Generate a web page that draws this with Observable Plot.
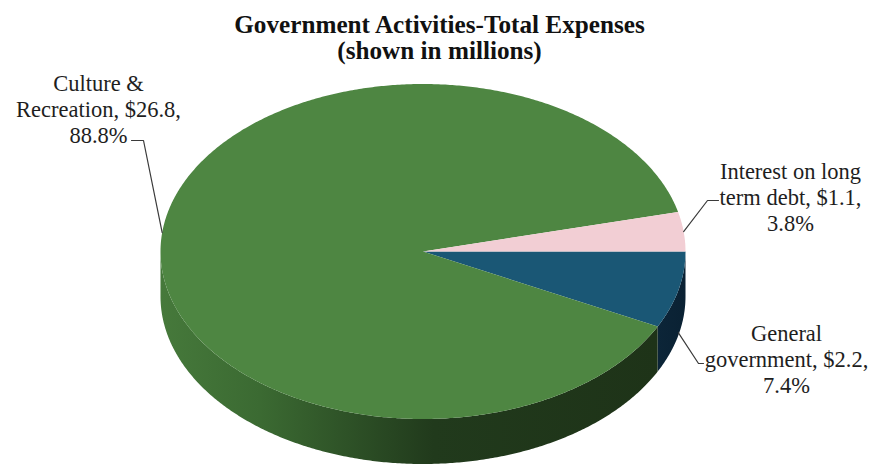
<!DOCTYPE html>
<html><head><meta charset="utf-8">
<script src="https://cdn.jsdelivr.net/npm/d3@7"></script>
<script src="https://cdn.jsdelivr.net/npm/@observablehq/plot@0.6"></script>
<style>
body{margin:0;background:#fff;}
#chart svg{display:block;}
#chart svg text, #chart svg tspan { font-family: "Liberation Serif", "Times New Roman", "DejaVu Serif", serif !important; }
</style>
</head><body><div id="chart"></div>
<script>
// ---- data (clockwise from 3 o'clock) ----
const categories = ["General government", "Culture & Recreation", "Interest on long term debt"];
const amounts = [2.2, 26.8, 1.1];          // $ millions
const percents = [7.4, 88.8, 3.8];         // share of total
const labelText = [
  "General\ngovernment, $2.2,\n7.4%",
  "Culture &\nRecreation, $26.8,\n88.8%",
  "Interest on long\nterm debt, $1.1,\n3.8%"
];
const titleText = "Government Activities-Total Expenses\n(shown in millions)";

// ---- style ----
const topColors = ["#1a5775", "#4e8642", "#f2ced4"];
const sideColors = ["url(#blueSide)", "url(#greenSide)", "#d4b3b9"];

// ---- layout (pixels) ----
const W = 872, H = 466;
const CX = 422.5, CY = 251, RX = 262.5, RY = 167.5, DEPTH = 45;
const D = DEPTH / RY; // depth in unit-v
const toU = px => (px - CX) / RX;
const toV = py => (py - CY) / RY;
// label layout: text centre, elbow and text-end of leader, whether leader meets the bottom rim
const labelLayout = [
  {tx: 786, ty: 358, start: [703, 363], elbow: [698, 363], bottom: true},
  {tx: 98, ty: 108, start: [131, 140], elbow: [143, 140], bottom: false},
  {tx: 790, ty: 196, start: [718, 200], elbow: [707, 200], bottom: false}
];

// ---- geometry from data ----
const TAU = 2 * Math.PI;
let cum = 0;
const slices = percents.map((p, i) => {
  const a0 = TAU * cum / 100; cum += p;
  const a1 = TAU * cum / 100;
  return {i, a0, a1, mid: (a0 + a1) / 2};
});
function arcPts(a0, a1, dv) {
  const n = Math.max(2, Math.ceil(Math.abs(a1 - a0) / (Math.PI / 360)));
  const pts = [];
  for (let k = 0; k <= n; k++) {
    const a = a0 + (a1 - a0) * k / n;
    pts.push({u: Math.cos(a), v: Math.sin(a) + dv});
  }
  return pts;
}
const FONT = "'Liberation Serif', 'Times New Roman', serif";
const marks = [];
// sides (front half, angles 0..PI)
slices.forEach(s => {
  const b0 = Math.max(s.a0, 0), b1 = Math.min(s.a1, Math.PI);
  if (b1 - b0 > 1e-6) {
    const pts = arcPts(b0, b1, 0).concat(arcPts(b1, b0, D));
    marks.push(Plot.line(pts, {x: "u", y: "v", fill: sideColors[s.i], stroke: "none"}));
  }
});
// tops
slices.forEach(s => {
  const pts = [{u: 0, v: 0}].concat(arcPts(s.a0, s.a1, 0));
  marks.push(Plot.line(pts, {x: "u", y: "v", fill: topColors[s.i], stroke: "none"}));
});
// leaders
slices.forEach(s => {
  const L = labelLayout[s.i];
  const edge = {u: Math.cos(s.mid), v: Math.sin(s.mid) + (L.bottom ? D * 0.95 : 0)};
  const pts = [{u: toU(L.start[0]), v: toV(L.start[1])}, {u: toU(L.elbow[0]), v: toV(L.elbow[1])}, edge];
  marks.push(Plot.line(pts, {x: "u", y: "v", stroke: "#3a3a3a", strokeWidth: 1.2}));
});
// labels
const labels = slices.map(s => ({u: toU(labelLayout[s.i].tx), v: toV(labelLayout[s.i].ty), t: labelText[s.i]}));
marks.push(Plot.text(labels, {x: "u", y: "v", text: "t", fontSize: 22.5, lineHeight: 1.15,
  fontFamily: FONT, textAnchor: "middle", fill: "#1e1e1e"}));
// title
marks.push(Plot.text([{u: toU(439), v: toV(37)}], {x: "u", y: "v", text: () => titleText, fontSize: 25.2,
  lineHeight: 1.03, fontWeight: "bold", fontFamily: FONT, textAnchor: "middle", fill: "#111"}));

const chart = Plot.plot({
  width: W, height: H, margin: 0,
  x: {domain: [toU(0), toU(W)], range: [0, W], axis: null},
  y: {domain: [toV(0), toV(H)], range: [0, H], axis: null},
  style: {background: "#fff", overflow: "visible", fontFamily: FONT},
  marks
});
// gradient definitions for the shaded rim
const svg = d3.select(chart.tagName.toLowerCase() === "svg" ? chart : chart.querySelector("svg"));
const defs = svg.insert("defs", ":first-child");
const g = defs.append("linearGradient").attr("id", "greenSide").attr("x1", 0).attr("x2", 1).attr("y1", 0).attr("y2", 0);
[[0, "#46793b"], [0.2, "#3b6a32"], [0.55, "#213a1c"], [1, "#1e3318"]].forEach(([o, c]) => g.append("stop").attr("offset", o).attr("stop-color", c));
const b = defs.append("linearGradient").attr("id", "blueSide").attr("x1", 0).attr("x2", 1).attr("y1", 0).attr("y2", 0);
[[0, "#0c2538"], [1, "#0a2133"]].forEach(([o, c]) => b.append("stop").attr("offset", o).attr("stop-color", c));
document.getElementById("chart").appendChild(chart);
</script>
</body></html>
